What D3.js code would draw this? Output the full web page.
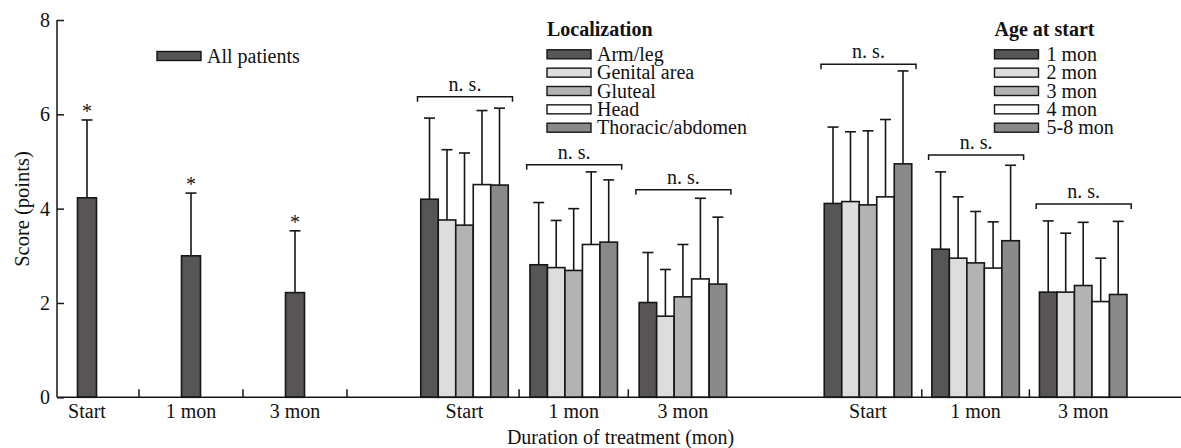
<!DOCTYPE html>
<html>
<head>
<meta charset="utf-8">
<script src="https://cdn.jsdelivr.net/npm/d3@7"></script>
</head>
<body style="margin:0; background:#fff">
<script>
// time points on the x axis (same for each panel)
let timePoints = ['Start', '1 mon', '3 mon']

// panel 1: all patients
let allSeries = ['All patients']
let allMeans = [[4.23], [3.0], [2.22]]
let allUpper = [[5.88], [4.33], [3.53]]

// panel 2: localization
let locSeries = ['Arm/leg', 'Genital area', 'Gluteal', 'Head', 'Thoracic/abdomen']
let locMeans = [
  [4.20, 3.76, 3.65, 4.51, 4.50],
  [2.81, 2.75, 2.69, 3.24, 3.29],
  [2.01, 1.72, 2.13, 2.51, 2.40]
]
let locUpper = [
  [5.92, 5.25, 5.18, 6.08, 6.13],
  [4.13, 3.75, 4.00, 4.78, 4.61],
  [3.07, 2.71, 3.24, 4.22, 3.82]
]
let locNsLevel = [6.37, 4.93, 4.40]

// panel 3: age at start
let ageSeries = ['1 mon', '2 mon', '3 mon', '4 mon', '5-8 mon']
let ageMeans = [
  [4.11, 4.15, 4.08, 4.25, 4.95],
  [3.14, 2.95, 2.85, 2.74, 3.32],
  [2.23, 2.23, 2.37, 2.03, 2.18]
]
let ageUpper = [
  [5.73, 5.63, 5.65, 5.89, 6.92],
  [4.78, 4.25, 3.94, 3.72, 4.92],
  [3.74, 3.48, 3.71, 2.95, 3.73]
]
let ageNsLevel = [7.06, 5.14, 4.10]

let yTicks = [0, 2, 4, 6, 8]

let seriesColors = ['#585557', '#dcdedc', '#b2b3b2', '#ffffff', '#8a8a8a']
let ink = '#161616'
let font = '"Liberation Serif"'

let width = 1181
let height = 448
let axisX = 57

let svg = d3.select('body').append('svg')
  .attr('width', width)
  .attr('height', height)

// every text gets the serif face and the same size
function label(sel, size) {
  return sel.append('text')
    .style('font-family', font)
    .style('font-size', (size || 20) + 'px')
    .style('fill', '#111')
}

let y = d3.scaleLinear().domain([0, 8]).range([397.3, 20])

// panel layouts: first category centre, distance between categories, bar width
let panels = [
  {series: allSeries, means: allMeans, upper: allUpper, c0: 87, step: 104, barW: 19, stars: true,
   legend: {x: 157, y: 56, title: null}},
  {series: locSeries, means: locMeans, upper: locUpper, c0: 464.5, step: 109.2, barW: 17.5, ns: locNsLevel,
   legend: {x: 547, y: 54.3, title: 'Localization'}},
  {series: ageSeries, means: ageMeans, upper: ageUpper, c0: 868, step: 107.6, barW: 17.5, ns: ageNsLevel,
   legend: {x: 994.5, y: 54.3, title: 'Age at start', textGap: 8}}
]

let sepTicks = []

panels.forEach((p, pi) => {
  let xTime = d3.scalePoint().domain(timePoints).range([p.c0, p.c0 + 2 * p.step])
  let inner = d3.scaleBand().domain(p.series)
    .range([-p.barW * p.series.length / 2, p.barW * p.series.length / 2])
  let g = svg.append('g').attr('class', 'panel' + pi)

  timePoints.forEach((t, ti) => {
    let cx = xTime(t)
    if (ti > 0) sepTicks.push((xTime(timePoints[ti - 1]) + cx) / 2)
    if (pi === 0 && ti === timePoints.length - 1) sepTicks.push(cx + p.step / 2)

    let rows = p.series.map((s, si) => ({s: s, si: si, m: p.means[ti][si], u: p.upper[ti][si]}))
    let mid = d => cx + inner(d.s) + inner.bandwidth() / 2
    let cell = g.append('g')

    // error bars (upper half only)
    cell.selectAll('line.err').data(rows).enter().append('line')
      .attr('class', 'err')
      .attr('x1', mid).attr('x2', mid)
      .attr('y1', d => y(d.m))
      .attr('y2', d => y(d.u))
      .style('stroke', ink).style('stroke-width', 1.6)
    cell.selectAll('line.cap').data(rows).enter().append('line')
      .attr('class', 'cap')
      .attr('x1', d => mid(d) - 5.5)
      .attr('x2', d => mid(d) + 5.5)
      .attr('y1', d => y(d.u))
      .attr('y2', d => y(d.u))
      .style('stroke', ink).style('stroke-width', 1.6)

    cell.selectAll('rect').data(rows).enter().append('rect')
      .attr('x', d => cx + inner(d.s))
      .attr('y', d => y(d.m))
      .attr('width', inner.bandwidth())
      .attr('height', d => y(0) - y(d.m))
      .style('fill', d => seriesColors[d.si])
      .style('stroke', ink).style('stroke-width', 1.6)

    if (p.stars) {
      rows.forEach(d => {
        label(cell)
          .attr('x', mid(d))
          .attr('y', y(d.u) - 2)
          .attr('text-anchor', 'middle')
          .text('*')
      })
    }

    if (p.ns) {
      let by = y(p.ns[ti])
      let x1 = cx - 47, x2 = cx + 48
      cell.append('path')
        .attr('d', `M${x1},${by + 5}V${by}H${x2}V${by + 5}`)
        .style('fill', 'none').style('stroke', ink).style('stroke-width', 1.5)
      label(cell)
        .attr('x', (x1 + x2) / 2)
        .attr('y', by - 6)
        .attr('text-anchor', 'middle')
        .text('n. s.')
    }

    // category label
    label(svg)
      .attr('x', cx)
      .attr('y', 418)
      .attr('text-anchor', 'middle')
      .text(t)
  })

  // legend
  let lg = svg.append('g').attr('transform', `translate(${p.legend.x},${p.legend.y})`)
  if (p.legend.title) {
    label(lg)
      .attr('x', 0).attr('y', -18)
      .style('font-weight', 'bold')
      .text(p.legend.title)
  }
  p.series.forEach((s, i) => {
    let item = lg.append('g').attr('transform', `translate(0,${i * 18.35})`)
    item.append('rect')
      .attr('x', 0).attr('y', -4.5)
      .attr('width', 44).attr('height', 9)
      .style('fill', seriesColors[i])
      .style('stroke', ink).style('stroke-width', 1.4)
    label(item)
      .attr('x', 44 + (p.legend.textGap || 6))
      .attr('y', 6.5)
      .text(s)
  })
})

// y axis
let yAxis = d3.axisLeft(y).tickValues(yTicks).tickSize(-7).tickPadding(7)
let yg = svg.append('g').attr('transform', `translate(${axisX},0)`).call(yAxis)
yg.select('.domain').attr('d', `M0,${y(8)}V${y(0)}`)
yg.selectAll('path, line').style('stroke', ink).style('stroke-width', 1.5)
yg.selectAll('text')
  .style('font-size', '20px')
  .style('font-family', font)
  .attr('fill', '#111')

// x axis line with separator ticks
svg.append('line')
  .attr('x1', axisX).attr('x2', width)
  .attr('y1', y(0)).attr('y2', y(0))
  .style('stroke', ink).style('stroke-width', 1.5)
svg.selectAll('line.sep').data(sepTicks).enter().append('line')
  .attr('class', 'sep')
  .attr('x1', d => d).attr('x2', d => d)
  .attr('y1', y(0)).attr('y2', y(0) - 8)
  .style('stroke', ink).style('stroke-width', 1.5)

// axis titles
label(svg)
  .attr('x', 620.5).attr('y', 444)
  .attr('text-anchor', 'middle')
  .text('Duration of treatment (mon)')

label(svg, 20.5)
  .attr('transform', 'translate(29,209) rotate(-90)')
  .attr('text-anchor', 'middle')
  .text('Score (points)')
</script>
</body>
</html>
